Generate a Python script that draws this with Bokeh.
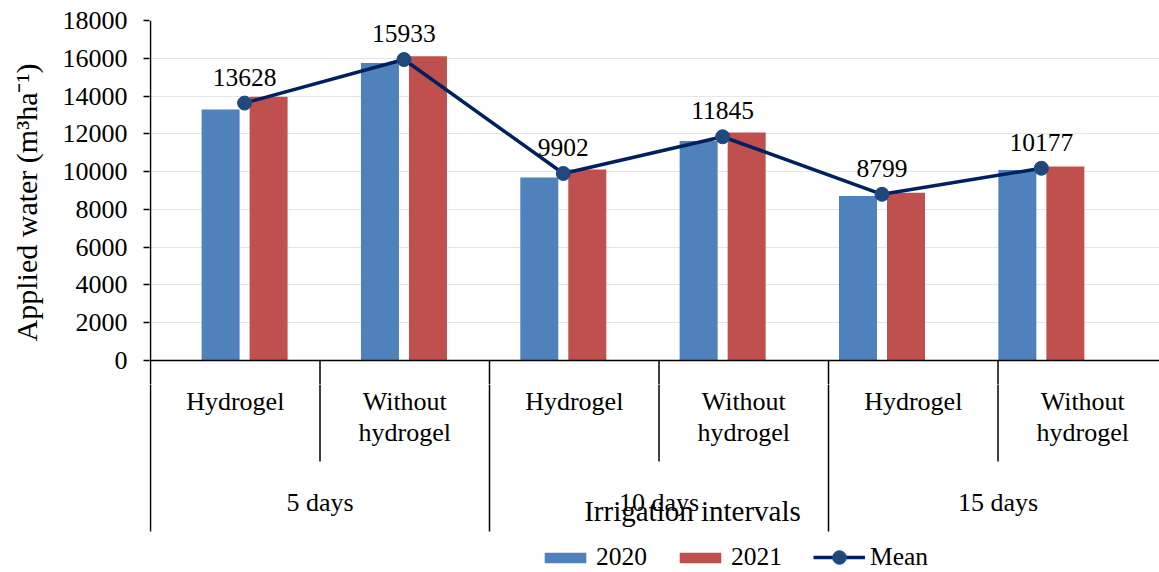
import numpy as np
from bokeh.plotting import figure
from bokeh.layouts import column
from bokeh.models import (Range1d, FixedTicker, ColumnDataSource, Legend,
                          LegendItem)
from bokeh.transform import dodge
from bokeh.core.properties import value
from bokeh.embed import file_html
from bokeh.resources import INLINE

# ---------------- data ----------------
intervals = ["5 days", "10 days", "15 days"]
treatments = ["Hydrogel", "Without hydrogel"]
water_2020 = [13290, 15750, 9690, 11620, 8710, 10080]
water_2021 = [13960, 16110, 10110, 12070, 8880, 10270]
water_mean = [13628, 15933, 9902, 11845, 8799, 10177]
y_ticks = [0, 2000, 4000, 6000, 8000, 10000, 12000, 14000, 16000, 18000]
series_names = ["2020", "2021", "Mean"]
x_title = "Irrigation intervals"
y_title = "Applied water (m\u00b3ha\u207b\u00b9)"

# ---------------- layout (screen pixel geometry) ----------------
W = 1159
FRAME_L, FRAME_R, FRAME_T = 149, 1159, 20
SPLIT = 384            # bottom of the chart frame / top of the category strip
TOTAL_H = 572
Y_TOP_VAL = 18000
Y0_PX = 360
UPP = Y_TOP_VAL / (Y0_PX - FRAME_T)


def ys(py):
    return (Y0_PX - py) * UPP


CAT_PX, CAT0_PX = 169.5, 150.0                      # label grid
BAR_PX, BAR0_PX = 159.35, 244.1                     # bar grid

FONT = value("Liberation Serif")
BLUE, RED = "#4F81BD", "#C0504D"
NAVY, MARK = "#002060", "#1F497D"

n = len(water_mean)
idx = np.arange(n)
sub_labels = [t for _ in intervals for t in treatments]

x_main = Range1d((FRAME_L - CAT0_PX) / CAT_PX, (FRAME_R - CAT0_PX) / CAT_PX)
x_bars = Range1d((FRAME_L - BAR0_PX) / BAR_PX, (FRAME_R - BAR0_PX) / BAR_PX)

# ---------------- chart ----------------
p = figure(width=W, height=SPLIT, output_backend="svg",
           toolbar_location=None, x_axis_type=None,
           x_range=x_main, y_range=Range1d(ys(SPLIT), Y_TOP_VAL),
           min_border_left=FRAME_L, min_border_right=W - FRAME_R,
           min_border_top=FRAME_T, min_border_bottom=0)
p.extra_x_ranges = {"bars": x_bars}
p.outline_line_color = None
p.xgrid.visible = False
p.ygrid.ticker = FixedTicker(ticks=y_ticks)
p.ygrid.grid_line_color = "#E6E6E6"
p.ygrid.grid_line_width = 1

ax = p.yaxis[0]
ax.ticker = FixedTicker(ticks=y_ticks)
ax.axis_line_color = None
ax.major_tick_in = 0
ax.major_tick_out = 6
ax.major_tick_line_color = "black"
ax.major_tick_line_width = 1.5
ax.minor_tick_line_color = None
ax.major_label_text_font = "Liberation Serif"
ax.major_label_text_font_size = "26px"
ax.major_label_text_color = "black"
ax.major_label_standoff = 16
ax.axis_label = y_title
ax.axis_label_text_font = "Liberation Serif"
ax.axis_label_text_font_size = "30px"
ax.axis_label_text_font_style = "normal"
ax.axis_label_text_color = "black"
ax.axis_label_standoff = 17

src = ColumnDataSource(dict(idx=idx, y20=water_2020, y21=water_2021,
                            mean=water_mean,
                            lab=[str(v) for v in water_mean]))

bw = 38 / BAR_PX
off = 24 / BAR_PX
r20 = p.vbar(x=dodge("idx", -off, range=x_bars), top="y20",
             width=bw, source=src, fill_color=BLUE, line_color=None,
             x_range_name="bars")
r21 = p.vbar(x=dodge("idx", off, range=x_bars), top="y21",
             width=bw, source=src, fill_color=RED, line_color=None,
             x_range_name="bars")

sep_x = list(range(2 * len(intervals)))
p.segment(x0=[x_main.start], x1=[x_main.end], y0=[0], y1=[0],
          line_color="black", line_width=1.5)
p.segment(x0=sep_x, x1=sep_x, y0=[Y_TOP_VAL if k == 0 else 0 for k in sep_x],
          y1=[ys(SPLIT + 5)] * len(sep_x), line_color="black", line_width=1.5)

rl = p.line(x="idx", y="mean", source=src, line_color=NAVY, line_width=3.5,
            x_range_name="bars")
rs = p.scatter(x="idx", y="mean", source=src, size=14, fill_color=MARK,
               line_color=MARK, x_range_name="bars")
p.text(x="idx", y="mean", text="lab", source=src, x_range_name="bars",
       text_font=FONT, text_font_size="25.5px", text_color="black",
       text_align="center", text_baseline="middle", y_offset=-26)

# ---------------- category strip ----------------
q = figure(width=W, height=TOTAL_H - SPLIT, output_backend="svg",
           toolbar_location=None, x_axis_type=None, y_axis_type=None,
           x_range=x_main, y_range=Range1d(ys(TOTAL_H), ys(SPLIT)),
           min_border_left=FRAME_L, min_border_right=W - FRAME_R,
           min_border_top=0, min_border_bottom=0)
q.outline_line_color = None

sep_bottom = [ys(531) if k % 2 == 0 else ys(461) for k in sep_x]
q.segment(x0=sep_x, x1=sep_x, y0=[ys(SPLIT - 5)] * len(sep_x),
          y1=sep_bottom, line_color="black", line_width=1.5)

q.text(x=idx + 0.5, y=[ys(401)] * n,
       text=[s.replace(" ", "\n") for s in sub_labels],
       text_font=FONT, text_font_size="26px", text_color="black",
       text_align="center", text_baseline="top", text_line_height=1.1,
       y_offset=-15)
q.text(x=[2 * g + 1 for g in range(len(intervals))],
       y=[ys(502)] * len(intervals), text=intervals,
       text_font=FONT, text_font_size="26px", text_color="black",
       text_align="center", text_baseline="middle")
q.text(x=[(692 - CAT0_PX) / CAT_PX], y=[ys(510)], text=[x_title],
       text_font=FONT, text_font_size="29px", text_color="black",
       text_align="center", text_baseline="middle")

# legend proxies (drawn below the visible strip)
d20 = q.vbar(x=[0], top=[ys(TOTAL_H + 50)], bottom=[ys(TOTAL_H + 60)],
             width=0.1, fill_color=BLUE, line_color=None)
d21 = q.vbar(x=[0], top=[ys(TOTAL_H + 50)], bottom=[ys(TOTAL_H + 60)],
             width=0.1, fill_color=RED, line_color=None)
dl = q.line(x=[0, 1], y=[ys(TOTAL_H + 60)] * 2, line_color=NAVY,
            line_width=3.5)
ds = q.scatter(x=[0], y=[ys(TOTAL_H + 60)], size=14, fill_color=MARK,
               line_color=MARK)

common = dict(orientation="horizontal", padding=0, margin=0,
              border_line_color=None, background_fill_alpha=0,
              label_text_font="Liberation Serif",
              label_text_font_size="25.5px", label_text_color="black",
              label_standoff=5, spacing=27, glyph_width=52)
leg1 = Legend(items=[LegendItem(label=series_names[0], renderers=[d20]),
                     LegendItem(label=series_names[1], renderers=[d21])],
              location=(539 - FRAME_L, 0), glyph_height=13, **common)
leg2 = Legend(items=[LegendItem(label=series_names[2], renderers=[dl, ds])],
              location=(813 - FRAME_L, -2), glyph_height=34, **common)
q.add_layout(leg1, "center")
q.add_layout(leg2, "center")

layout = column(p, q, spacing=0)
open("out.html", "w").write(file_html(layout, INLINE))
